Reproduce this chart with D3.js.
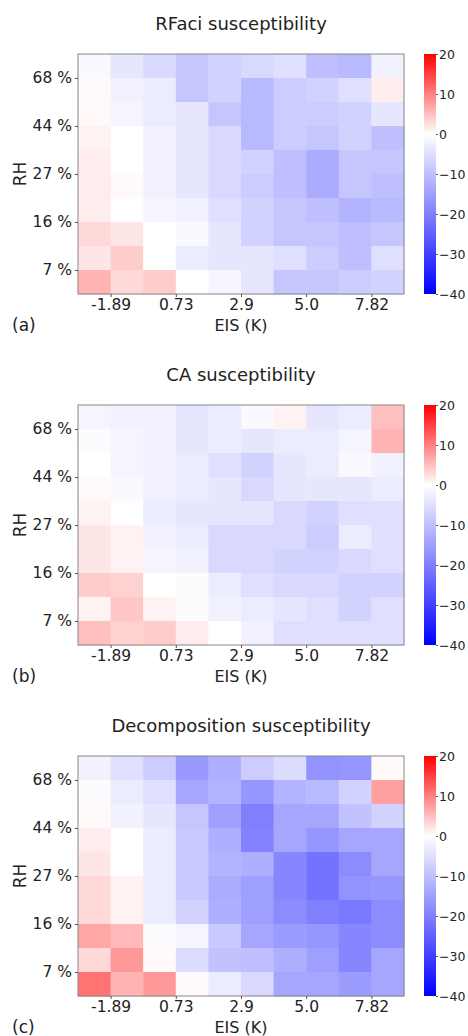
<!DOCTYPE html>
<html>
<head>
    <meta charset="utf-8" />
    <title>Susceptibility</title>
    <style>
        body { margin: 0; background: #fff; }
        text { font-family: "DejaVu Sans", sans-serif; fill: #222; }
    </style>
</head>
<body>
    <svg width=468 height=1036></svg>
</body>
<script src="https://d3js.org/d3.v7.min.js"></script>
<script>
    var eisLabels = ['-1.89', '0.73', '2.9', '5.0', '7.82'];
    var rhLabels = ['7 %', '16 %', '27 %', '44 %', '68 %'];
    var panelTitles = ['RFaci susceptibility', 'CA susceptibility', 'Decomposition susceptibility'];
    var panelLetters = ['(a)', '(b)', '(c)'];
    var cbarTicks = [20, 10, 0, -10, -20, -30, -40];

    // rows go from top (high RH) to bottom (low RH), columns low EIS -> high EIS
    var rfaci = [
        [-1, -4, -6, -9, -7, -6, -5, -10, -11, -2],
        [0.5, -2, -3, -9, -7, -11, -8, -7, -5, 1.5],
        [0.5, -1.5, -3, -4, -9, -11, -8, -8, -7, -4],
        [1, 0, -2, -4, -6, -11, -8, -9, -7, -10],
        [1.5, 0, -2, -4, -6, -7, -10, -13, -9, -9],
        [1.5, 0.5, -2, -4, -6, -8, -10, -13, -9, -10],
        [1.5, 0, -1.5, -2, -5, -7, -9, -10, -12, -11],
        [3, 2, 0, -1, -4, -7, -9, -9, -10, -9],
        [2, 4, 0, -3, -4, -4, -5, -8, -10, -5],
        [6, 3, 4, 0, -1.5, -4, -9, -9, -8, -7]
    ];
    var ca = [
        [-1.5, -2, -2, -4, -3, -1, 1, -4, -3, 5],
        [-0.5, -1.5, -2, -4, -3, -4, -3, -3, -1.5, 6],
        [0, -1.5, -2, -3, -5, -7, -4, -3, -1, -2],
        [0.5, -1, -2, -3, -4, -6, -4, -4, -4, -3],
        [1, 0, -3, -4, -4, -4, -6, -7, -5, -5],
        [2, 1, -2, -3, -6, -6, -6, -8, -3, -5],
        [2, 1, -1.5, -2, -6, -6, -7, -7, -6, -5],
        [4, 3.5, 0, -0.5, -3, -5, -6, -6, -7, -7],
        [1, 4.5, 1, -0.5, -2, -3, -4, -5, -7, -5],
        [5, 3.5, 4, 1.5, 0, -2, -5, -5, -5, -5]
    ];
    var decomp = [
        [-2, -5, -8, -16, -12.5, -8, -5.5, -17, -16.5, 0.5],
        [-0.5, -3, -5, -14, -12, -16.5, -12, -11, -7, 7.5],
        [0.5, -2, -4, -9, -15, -20, -14, -14, -9.5, -7],
        [1.5, 0, -3, -8.5, -12.5, -19.5, -14, -16.5, -14, -14],
        [2, 0, -3, -8.5, -12, -12.5, -19, -22, -18, -14],
        [3, 1, -3, -8.5, -13, -15, -19, -22, -17, -16.5],
        [3, 1, -3, -7, -12.5, -15, -18, -20, -21, -18],
        [7, 5.5, -0.5, -1.5, -8.5, -14, -15.5, -16.5, -19, -18],
        [3, 8, 0.5, -5.5, -9.5, -10, -12.5, -15, -19, -14],
        [11, 6, 8, 0.5, -3, -6, -14, -14, -15.5, -14]
    ];
    var panels = [rfaci, ca, decomp];

    var svg = d3.select('svg');

    var left = 78, plotW = 326, plotH = 240, firstTop = 54, step = 351;
    var cbX = 424, cbW = 12;

    // bwr colormap with the white point at zero
    var color = d3.scaleLinear()
        .domain([-40, 0, 20])
        .range(['#0000ff', '#ffffff', '#ff0000']);

    var grad = svg.append('defs')
        .append('linearGradient')
        .attr('id', 'bwr')
        .attr('x1', 0).attr('y1', 0).attr('x2', 0).attr('y2', 1);
    grad.selectAll('stop')
        .data([20, 0, -40])
        .enter()
        .append('stop')
        .attr('offset', function (d) { return (20 - d) / 60; })
        .attr('stop-color', function (d) { return color(d); });

    panels.forEach(function (grid, k) {
        var top = firstTop + k * step;
        var g = svg.append('g');

        var x = d3.scaleLinear().domain([0, 10]).range([left, left + plotW]);
        var y = d3.scaleLinear().domain([0, 10]).range([top + plotH, top]);

        var cells = [];
        grid.forEach(function (row, r) {
            row.forEach(function (v, c) {
                cells.push({ row: 9 - r, col: c, value: v });
            });
        });

        g.selectAll('rect.cell')
            .data(cells)
            .enter()
            .append('rect')
            .attr('class', 'cell')
            .attr('x', function (d) { return x(d.col); })
            .attr('y', function (d) { return y(d.row + 1); })
            .attr('width', function (d) { return x(d.col + 1) - x(d.col) + 0.5; })
            .attr('height', function (d) { return y(d.row) - y(d.row + 1) + 0.5; })
            .attr('fill', function (d) { return color(d.value); });

        g.append('rect')
            .attr('x', left)
            .attr('y', top)
            .attr('width', plotW)
            .attr('height', plotH)
            .attr('fill', 'none')
            .attr('stroke', '#888')
            .attr('stroke-width', 1);

        var xAxis = g.append('g')
            .attr('transform', 'translate(0,' + (top + plotH) + ')')
            .call(d3.axisBottom(x)
                .tickValues([1, 3, 5, 7, 9])
                .tickFormat(function (d, i) { return eisLabels[i]; })
                .tickSize(3)
                .tickPadding(2));

        var yAxis = g.append('g')
            .attr('transform', 'translate(' + left + ',0)')
            .call(d3.axisLeft(y)
                .tickValues([1, 3, 5, 7, 9])
                .tickFormat(function (d, i) { return rhLabels[i]; })
                .tickSize(3)
                .tickPadding(3));

        [xAxis, yAxis].forEach(function (a) {
            a.select('.domain').remove();
            a.selectAll('line').attr('stroke', '#555');
            a.selectAll('text')
                .attr('fill', '#222')
                .style('font-size', '15.5px');
        });

        g.append('text')
            .attr('x', left + plotW / 2)
            .attr('y', top - 24)
            .attr('text-anchor', 'middle')
            .style('font-size', '18px')
            .text(panelTitles[k]);

        g.append('text')
            .attr('x', left + plotW / 2)
            .attr('y', top + plotH + 37)
            .attr('text-anchor', 'middle')
            .style('font-size', '16px')
            .text('EIS (K)');

        g.append('text')
            .attr('transform', 'translate(26,' + (top + plotH / 2) + ') rotate(-90)')
            .attr('text-anchor', 'middle')
            .style('font-size', '17px')
            .text('RH');

        g.append('text')
            .attr('x', 12)
            .attr('y', top + plotH + 37)
            .style('font-size', '17px')
            .text(panelLetters[k]);

        // colorbar
        var cb = d3.scaleLinear().domain([-40, 20]).range([top + plotH, top]);
        g.append('rect')
            .attr('x', cbX)
            .attr('y', top)
            .attr('width', cbW)
            .attr('height', plotH)
            .attr('fill', 'url(#bwr)');

        var cAxis = g.append('g')
            .attr('transform', 'translate(' + (cbX + cbW) + ',0)')
            .call(d3.axisRight(cb)
                .tickValues(cbarTicks)
                .tickFormat(function (d) { return d < 0 ? '\u2212' + (-d) : d; })
                .tickSize(2)
                .tickPadding(1));
        cAxis.select('.domain').remove();
        cAxis.selectAll('line').attr('stroke', '#555');
        cAxis.selectAll('text')
            .attr('fill', '#222')
            .style('font-size', '12.5px');
    });
</script>
</html>
